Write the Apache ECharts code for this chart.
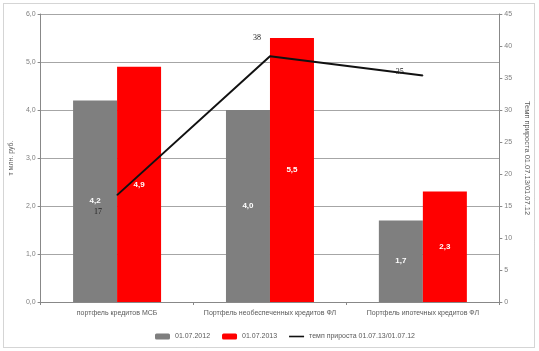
<!DOCTYPE html>
<html>
<head>
<meta charset="utf-8">
<script src="https://cdn.jsdelivr.net/npm/echarts@6/dist/echarts.min.js"></script>
<style>
    html, body {margin: 0; padding: 0; background: #fff;}
    #chart {width: 539px; height: 351px;}
</style>
</head>
<body>
<div id="chart"></div>
<script>

    // 数据
    var categories = [
        'портфель кредитов МСБ',
        'Портфель необеспеченных кредитов ФЛ',
        'Портфель ипотечных кредитов ФЛ'
    ];
    var values2012 = [4.2, 4.0, 1.7];
    var values2013 = [4.9, 5.5, 2.3];
    var growth = [16.7, 38.4, 35.4];
    var growthLabelOffsets = [[-19, 17], [-13, -18], [-23, -4]];

    var font = 'Liberation Sans';
    var gray = '#7f7f7f';

    function comma(v) {
        return String(v).replace('.', ',');
    }

    var chart = echarts.init(document.getElementById('chart'));

    var barLabel = {
        show: true,
        position: 'inside',
        color: '#fff',
        fontSize: 8,
        fontWeight: 'bold',
        fontFamily: font,
        formatter: function (p) {
            return comma(p.value.toFixed(1));
        }
    };

    var option = {
        backgroundColor: '#fff',
        animation: false,
        textStyle: {fontFamily: font},
        graphic: [{
            type: 'rect',
            shape: {x: 3.5, y: 3.5, width: 531, height: 344},
            style: {fill: 'none', stroke: '#aaa', lineWidth: 1, lineDash: [1, 1]},
            silent: true
        }],
        grid: {left: 39, right: 36, top: 14, bottom: 49},
        legend: {
            left: 150,
            top: 328,
            itemWidth: 15,
            itemHeight: 6,
            itemGap: 12,
            textStyle: {color: '#595959', fontSize: 7, fontFamily: font},
            data: [
                '01.07.2012',
                '01.07.2013',
                {
                    name: 'темп прироста 01.07.13/01.07.12',
                    icon: 'path://M0,0M15,6M0,2.2L15,2.2L15,3.8L0,3.8Z'
                }
            ]
        },
        xAxis: {
            type: 'category',
            data: categories,
            axisLine: {lineStyle: {color: '#888'}},
            axisTick: {show: true, length: 3, lineStyle: {color: '#888'}},
            axisLabel: {color: '#595959', fontSize: 7, margin: 8, interval: 0}
        },
        yAxis: [
            {
                type: 'value',
                min: 0,
                max: 6,
                interval: 1,
                name: 'т млн. руб.',
                nameLocation: 'middle',
                nameGap: 16,
                nameTextStyle: {color: '#595959', fontSize: 7},
                axisLine: {show: true, lineStyle: {color: '#888'}},
                axisTick: {show: true, length: 3, lineStyle: {color: '#888'}},
                axisLabel: {
                    color: '#7f7f7f',
                    fontSize: 7,
                    margin: 5,
                    formatter: function (v) {
                        return comma(v.toFixed(1));
                    }
                },
                splitLine: {lineStyle: {color: '#a6a6a6', width: 1}}
            },
            {
                type: 'value',
                min: 0,
                max: 45,
                interval: 5,
                name: 'Темп прироста 01.07.13/01.07.12',
                nameLocation: 'middle',
                nameGap: 12,
                nameRotate: -90,
                nameTextStyle: {color: '#595959', fontSize: 7.5},
                axisLine: {show: true, lineStyle: {color: '#888'}},
                axisTick: {show: true, length: 3, lineStyle: {color: '#888'}},
                axisLabel: {color: '#7f7f7f', fontSize: 7, margin: 5},
                splitLine: {show: false}
            }
        ],
        series: [
            {
                name: '01.07.2012',
                type: 'bar',
                data: values2012,
                barWidth: 44,
                barGap: '0%',
                itemStyle: {color: gray},
                label: barLabel
            },
            {
                name: '01.07.2013',
                type: 'bar',
                data: values2013,
                barWidth: 44,
                barGap: '0%',
                itemStyle: {color: '#ff0000'},
                label: barLabel
            },
            {
                name: 'темп прироста 01.07.13/01.07.12',
                type: 'line',
                yAxisIndex: 1,
                symbol: 'circle',
                symbolSize: 1,
                showSymbol: true,
                z: 5,
                lineStyle: {color: '#111', width: 2},
                itemStyle: {color: '#111'},
                label: {
                    show: true,
                    position: 'inside',
                    color: '#222',
                    fontSize: 8,
                    fontFamily: 'Liberation Serif',
                    formatter: function (p) {
                        return Math.round(p.value);
                    }
                },
                data: growth.map(function (v, i) {
                    return {
                        value: v,
                        label: {offset: growthLabelOffsets[i]}
                    };
                })
            }
        ]
    };

    chart.setOption(option);

</script>
</body>
</html>
